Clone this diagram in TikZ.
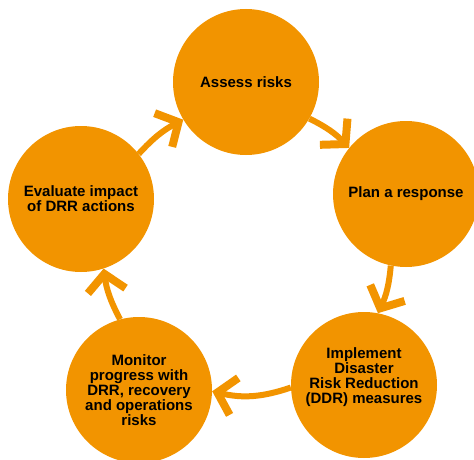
\documentclass[tikz,border=0pt]{standalone}
\usepackage{fontspec}
\setmainfont{Liberation Sans}
\usetikzlibrary{arrows.meta}
\definecolor{drrorange}{RGB}{242,148,0}

\begin{document}
\begin{tikzpicture}[
    x=1pt,y=1pt,
    stage/.style={circle,fill=drrorange,minimum size=146pt,inner sep=0pt,
                  align=center,font=\fontsize{15}{15}\selectfont\bfseries},
    arr/.style={-{Straight Barb[length=17pt,width=38pt,line width=8pt,line cap=butt,line join=miter]},
                line width=6pt,drrorange}
]
  \useasboundingbox (0,0) rectangle (474,459);

  % Stages
  \node[stage] (assess) at (246,377) {Assess risks};
  \node[stage] (plan) at (406,265) {Plan a response};
  \node[stage,text depth=19pt] (implement) at (364,74) {Implement\\Disaster\\Risk Reduction\\(DDR) measures};
  \node[stage] (monitor) at (139,69) {Monitor\\progress with\\DRR, recovery\\and operations\\risks};
  \node[stage] (evaluate) at (81,260) {Evaluate impact\\of DRR actions};

  % Arrows
  \draw[arr] (assess.-30) to[bend left=10] (plan.141);
  \draw[arr] (plan.-102) to[bend left=10] (implement.79);
  \draw[arr] (implement.-178) to[bend left=16] (monitor.-1);
  \draw[arr] (monitor.105) to[bend left=10] (evaluate.-72);
  \draw[arr] (evaluate.38) to[bend left=10] (assess.-149);
\end{tikzpicture}
\end{document}
